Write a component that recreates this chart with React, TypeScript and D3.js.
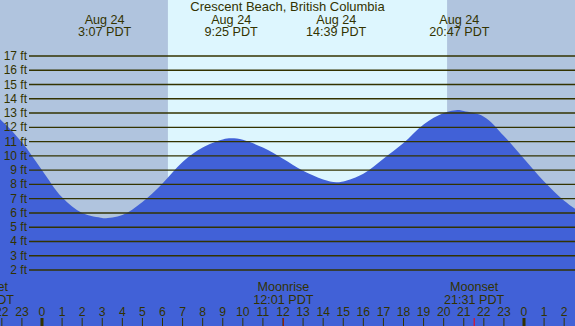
import React from "react";
import * as d3 from "d3";

// tide readings: hour of Aug 24 (negative = previous evening), height in ft
const tideHours = [-3, -2, -1, 0, 1, 2, 3, 3.12, 4, 5, 6, 7, 8, 9, 9.42, 10, 11, 12, 13, 14, 14.65, 15, 16, 17, 18, 19, 20, 20.78, 21, 22, 23, 24, 25, 26, 27];
const tideFeet = [13.5, 12.45, 10.95, 9.0, 7.1, 6.0, 5.65, 5.62, 5.85, 6.77, 8.07, 9.57, 10.58, 11.15, 11.23, 11.13, 10.58, 9.8, 8.95, 8.35, 8.15, 8.2, 8.75, 9.8, 10.9, 12.2, 13.0, 13.22, 13.14, 12.75, 11.4, 9.8, 8.2, 6.85, 5.85];

const extremeHours = [3.12, 9.42, 14.65, 20.78];
const extremeLabels = ["3:07 PDT", "9:25 PDT", "14:39 PDT", "20:47 PDT"];
const extremeDate = "Aug 24";

const moonHours = [-2.89, 12.02, 21.52];
const moonNames = ["Moonset", "Moonrise", "Moonset"];
const moonTimes = ["21:07 PDT", "12:01 PDT", "21:31 PDT"];

const sunrise = 6.27;
const sunset = 20.17;

const feetTicks = d3.range(2, 18);
const hourTicks = d3.range(-2, 27);

const W = 575;
const H = 326;
const ink = "#333300";
const font = "'Liberation Sans', Arial, sans-serif";

export default function App() {
  const x = d3.scaleLinear().domain([0, 24]).range([42, 524]);
  const y = d3.scaleLinear().domain([2, 17]).range([270, 56]);

  const pts: [number, number][] = tideHours.map((h, i) => [h, tideFeet[i]]);
  const area = d3.area<[number, number]>()
    .x(d => x(d[0]))
    .y0(H)
    .y1(d => y(d[1]))
    .curve(d3.curveCatmullRom.alpha(0.5));

  return (
    <div style={{position: "fixed", left: 0, top: 0}}>
      <svg width={W} height={H} style={{display: "block"}} fontFamily={font}>
        <defs>
          <clipPath id="plot"><rect x={0} y={0} width={W} height={H} /></clipPath>
        </defs>
        <rect x={0} y={0} width={W} height={H} fill="#b0c4de" />
        <rect x={x(sunrise)} y={0} width={x(sunset) - x(sunrise)} height={H} fill="#ddf6fe" />
        <path d={area(pts) || ""} fill="#4161d7" clipPath="url(#plot)" />

        {feetTicks.map(f => (
          <g key={f}>
            <line x1={29} x2={W} y1={y(f)} y2={y(f)} stroke={ink} strokeWidth={1.4} />
            <text x={27} y={y(f) + 4} textAnchor="end" fontSize={12} fill={ink}>{f} ft</text>
          </g>
        ))}

        <text x={W / 2} y={11} textAnchor="middle" fontSize={13} fill={ink}>Crescent Beach, British Columbia</text>
        {extremeHours.map((h, i) => (
          <g key={h}>
            <text x={x(h)} y={23.5} textAnchor="middle" fontSize={12.6} fill={ink}>{extremeDate}</text>
            <text x={x(h)} y={36} textAnchor="middle" fontSize={12.6} fill={ink}>{extremeLabels[i]}</text>
          </g>
        ))}

        {moonHours.map((h, i) => (
          <g key={h}>
            <text x={x(h)} y={291} textAnchor="middle" fontSize={12.6} fill={ink}>{moonNames[i]}</text>
            <text x={x(h)} y={304} textAnchor="middle" fontSize={12.6} fill={ink}>{moonTimes[i]}</text>
            <line x1={x(h)} x2={x(h)} y1={318} y2={H} stroke="#ff0000" strokeWidth={1} />
          </g>
        ))}

        {hourTicks.map(h => (
          <g key={h}>
            <text x={x(h)} y={316} textAnchor="middle" fontSize={12.2} fill={ink}>{((h % 24) + 24) % 24}</text>
            <line x1={x(h)} x2={x(h)} y1={318} y2={H} stroke={ink} strokeWidth={h % 24 === 0 ? 3 : 1} />
          </g>
        ))}
      </svg>
    </div>
  );
}
